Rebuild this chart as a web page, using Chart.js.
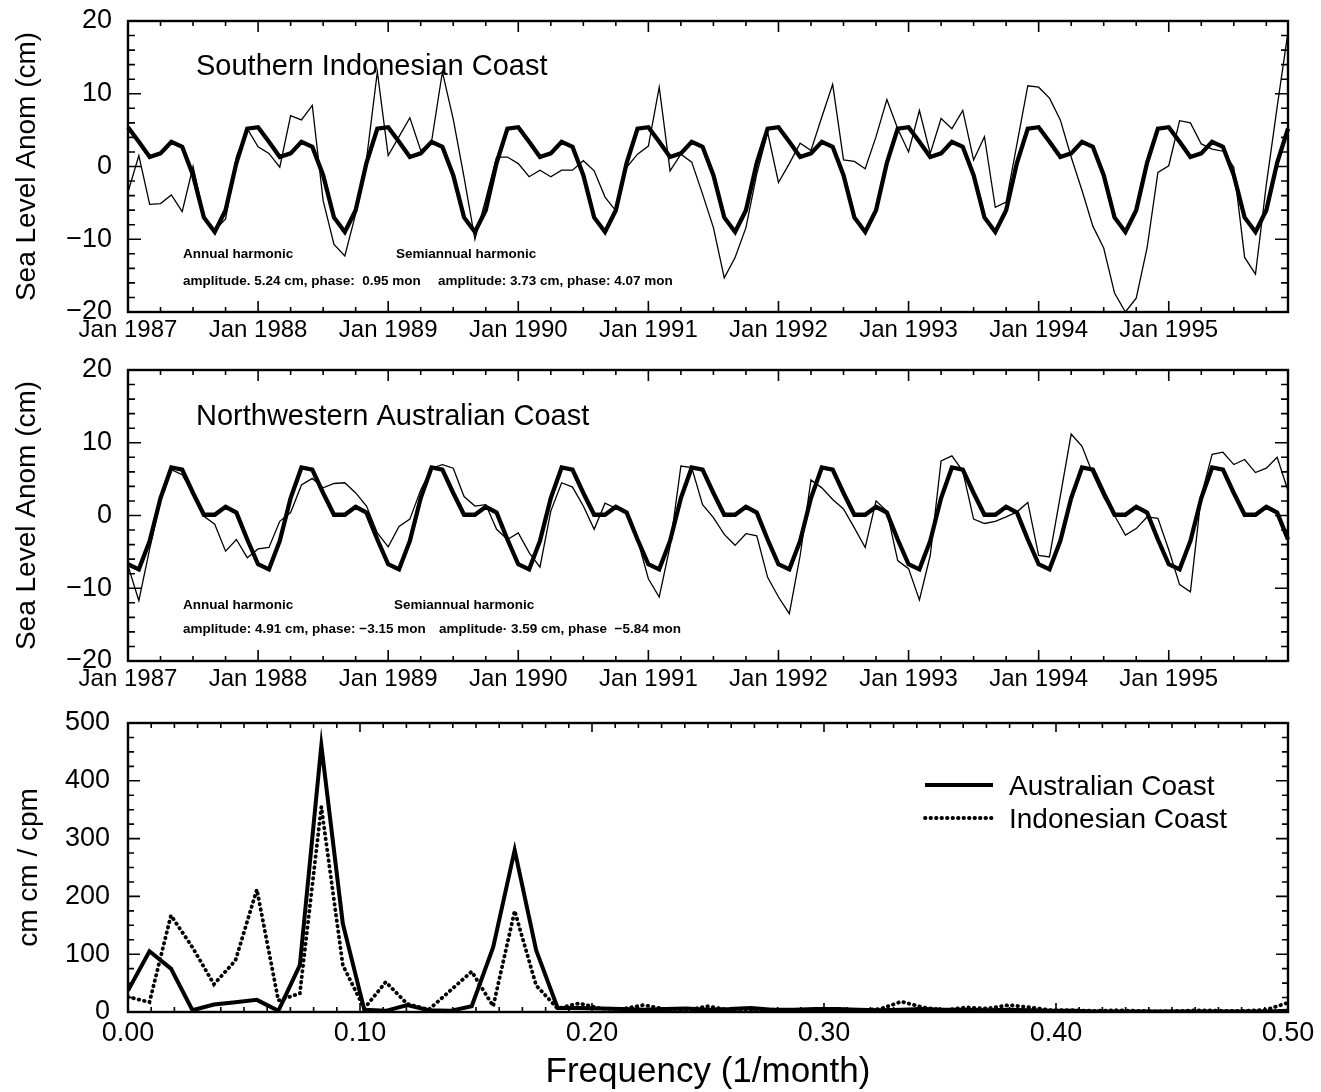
<!DOCTYPE html>
<html>
<head>
<meta charset="utf-8">
<title>Sea level anomalies and spectra, 1987-1995</title>
<script src="https://cdn.jsdelivr.net/npm/chart.js@4.4.1/dist/chart.umd.min.js"></script>
<style>
  html, body { margin: 0; padding: 0; background: #fff; }
  #page { position: relative; width: 1321px; height: 1092px; overflow: hidden; }
  canvas { position: absolute; left: 0; }
</style>
</head>
<body>
<div id="page">
  <canvas id="indonesia" width="1321" height="350" style="top:0"></canvas>
  <canvas id="australia" width="1321" height="350" style="top:349px"></canvas>
  <canvas id="spectrum" width="1321" height="392" style="top:700px"></canvas>
</div>
<script>
// ---- data -------------------------------------------------------------

const START_YEAR = 1987;
const MONTH_NAMES = ['Jan', 'Feb', 'Mar', 'Apr', 'May', 'Jun', 'Jul', 'Aug', 'Sep', 'Oct', 'Nov', 'Dec'];
const monthLabels = [];
for (let i = 0; i < 108; i++) {
    monthLabels.push(MONTH_NAMES[i % 12] + ' ' + (START_YEAR + Math.floor(i / 12)));
}

// monthly sea level anomaly (cm), southern Indonesian coast
const indonesiaObserved = [
    -3.5, 1.5, -5.2, -5.1, -3.9, -6.2, 0.0, -6.8, -8.8, -7.2, 1.3, 5.2,
    2.7, 1.8, -0.1, 7.0, 6.4, 8.4, -4.7, -10.7, -12.3, -6.5, 1.0, 13.0,
    1.5, 4.1, 6.7, 2.2, 3.4, 13.0, 6.5, -1.5, -10.0, -4.5, 1.3, 1.3,
    0.4, -1.4, -0.5, -1.4, -0.5, -0.5, 0.8, -0.6, -4.2, -6.1, -0.1, 1.7,
    2.8, 10.9, -0.6, 1.7, 0.6, -3.8, -8.4, -15.3, -12.5, -8.4, -1.0, 4.7,
    -2.2, 0.4, 3.2, 2.2, 6.8, 11.3, 0.9, 0.7, -0.3, 4.1, 9.2, 5.2,
    2.0, 7.7, 1.8, 6.6, 5.2, 7.7, 0.9, 4.1, -5.6, -4.9, 3.1, 11.1,
    10.9, 9.4, 6.4, 1.3, -3.3, -8.2, -11.2, -17.4, -20.0, -18.1, -11.2, -0.8,
    0.1, 6.3, 6.0, 3.1, 2.4, 2.1, -0.1, -12.5, -14.8, -2.5, 8.2, 18.5
];
// annual + semiannual harmonic fit
const indonesiaFit = [
    5.4, 3.4, 1.3, 1.8, 3.4, 2.7, -1.2, -7.0, -9.0, -6.0, 0.5, 5.2,
    5.4, 3.4, 1.3, 1.8, 3.4, 2.7, -1.2, -7.0, -9.0, -6.0, 0.5, 5.2,
    5.4, 3.4, 1.3, 1.8, 3.4, 2.7, -1.2, -7.0, -9.0, -6.0, 0.5, 5.2,
    5.4, 3.4, 1.3, 1.8, 3.4, 2.7, -1.2, -7.0, -9.0, -6.0, 0.5, 5.2,
    5.4, 3.4, 1.3, 1.8, 3.4, 2.7, -1.2, -7.0, -9.0, -6.0, 0.5, 5.2,
    5.4, 3.4, 1.3, 1.8, 3.4, 2.7, -1.2, -7.0, -9.0, -6.0, 0.5, 5.2,
    5.4, 3.4, 1.3, 1.8, 3.4, 2.7, -1.2, -7.0, -9.0, -6.0, 0.5, 5.2,
    5.4, 3.4, 1.3, 1.8, 3.4, 2.7, -1.2, -7.0, -9.0, -6.0, 0.5, 5.2,
    5.4, 3.4, 1.3, 1.8, 3.4, 2.7, -1.2, -7.0, -9.0, -6.0, 0.5, 5.2
];

// monthly sea level anomaly (cm), northwestern Australian coast
const australiaObserved = [
    -6.9, -11.7, -4.6, 2.0, 6.3, 5.6, 2.9, -0.1, -1.2, -4.9, -3.3, -5.8,
    -4.6, -4.4, -0.8, 0.4, 4.2, 5.1, 3.8, 4.4, 4.5, 3.1, 1.3, -2.4,
    -4.3, -1.5, -0.5, 3.5, 6.5, 7.0, 6.5, 2.6, 1.3, 1.5, -1.9, -3.3,
    -2.4, -5.1, -7.1, 0.6, 4.5, 3.9, 1.3, -1.9, 1.7, 1.0, 0.4, -3.3,
    -8.7, -11.2, -4.2, 6.8, 6.6, 1.5, -0.3, -2.6, -4.1, -2.5, -2.8, -8.5,
    -11.2, -13.5, -5.5, 4.9, 3.8, 2.2, 0.9, -1.7, -4.4, 2.0, 0.6, -6.2,
    -7.3, -11.6, -5.5, 7.5, 8.2, 6.1, -0.5, -1.1, -0.8, -0.2, 0.5, 1.8,
    -5.5, -5.7, 2.7, 11.2, 9.5, 5.7, 2.5, 0.0, -2.7, -1.8, -0.2, -0.4,
    -4.7, -9.5, -10.5, 2.7, 8.4, 8.7, 7.0, 7.7, 5.9, 6.5, 8.0, 3.4
];
const australiaFit = [
    -6.7, -7.4, -3.5, 2.4, 6.6, 6.3, 3.1, 0.1, 0.1, 1.2, 0.4, -3.3,
    -6.7, -7.4, -3.5, 2.4, 6.6, 6.3, 3.1, 0.1, 0.1, 1.2, 0.4, -3.3,
    -6.7, -7.4, -3.5, 2.4, 6.6, 6.3, 3.1, 0.1, 0.1, 1.2, 0.4, -3.3,
    -6.7, -7.4, -3.5, 2.4, 6.6, 6.3, 3.1, 0.1, 0.1, 1.2, 0.4, -3.3,
    -6.7, -7.4, -3.5, 2.4, 6.6, 6.3, 3.1, 0.1, 0.1, 1.2, 0.4, -3.3,
    -6.7, -7.4, -3.5, 2.4, 6.6, 6.3, 3.1, 0.1, 0.1, 1.2, 0.4, -3.3,
    -6.7, -7.4, -3.5, 2.4, 6.6, 6.3, 3.1, 0.1, 0.1, 1.2, 0.4, -3.3,
    -6.7, -7.4, -3.5, 2.4, 6.6, 6.3, 3.1, 0.1, 0.1, 1.2, 0.4, -3.3,
    -6.7, -7.4, -3.5, 2.4, 6.6, 6.3, 3.1, 0.1, 0.1, 1.2, 0.4, -3.3
];

// power spectra, frequency grid of 1/108 cycles per month
const frequency = [];
for (let k = 0; k <= 54; k++) frequency.push(k / 108);

const australiaSpectrum = [
    37, 105, 75, 3, 13, 17, 21, 2, 81, 461, 153, 4, 2, 12, 3, 2, 10, 112, 280, 107, 7, 7,
    6, 5, 4, 5, 6, 4, 5, 7, 4, 4, 5, 5, 4, 3, 4, 5, 4, 4, 3, 4,
    3, 2, 2, 1, 1, 1, 1, 1, 1, 1, 1, 1, 2
];
const indonesiaSpectrum = [
    26, 17, 167, 112, 48, 89, 212, 20, 32, 355, 81, 6, 52, 14, 4, 37, 70, 10, 175, 46, 6, 15,
    6, 5, 12, 5, 3, 10, 3, 2, 4, 2, 4, 5, 3, 5, 18, 8, 3, 8, 6, 12,
    8, 3, 3, 2, 3, 2, 1, 2, 3, 2, 2, 4, 16
];

const seaLevelTicks = [-20, -10, 0, 10, 20];
const spectrumTicks = [0, 100, 200, 300, 400, 500];
const frequencyTicks = [0, 0.1, 0.2, 0.3, 0.4, 0.5];

// ---- drawing ----------------------------------------------------------

const FONT = '"Liberation Sans", Arial, Helvetica, sans-serif';
Chart.defaults.font.family = FONT;
Chart.defaults.color = '#000';

const signed = v => (v < 0 ? '\u2212' + Math.abs(v) : String(v));

// fixed axis boxes so the plot areas line up between panels
const fixWidth = w => s => { s.width = w; s.paddingTop = 0; s.paddingBottom = 0; };
const fixHeight = h => s => { s.height = h; s.paddingLeft = 0; s.paddingRight = 0; };

// frame round the plot area with inward tick marks on all four sides
function frameTicks(xMinor, xMajor, yMinor, yMajor, len) {
    return {
        id: 'frameTicks',
        afterDatasetsDraw(chart) {
            const { ctx, chartArea: a, scales: { x, y } } = chart;
            ctx.save();
            ctx.strokeStyle = '#000';
            ctx.lineWidth = 1.6;
            ctx.beginPath();
            const xMark = (v, l) => {
                const p = x.getPixelForValue(v);
                ctx.moveTo(p, a.bottom); ctx.lineTo(p, a.bottom - l);
                ctx.moveTo(p, a.top); ctx.lineTo(p, a.top + l);
            };
            const yMark = (v, l) => {
                const p = y.getPixelForValue(v);
                ctx.moveTo(a.left, p); ctx.lineTo(a.left + l, p);
                ctx.moveTo(a.right, p); ctx.lineTo(a.right - l, p);
            };
            xMinor.forEach(v => xMark(v, len.xMinor));
            xMajor.forEach(v => xMark(v, len.xMajor));
            yMinor.forEach(v => yMark(v, len.yMinor));
            yMajor.forEach(v => yMark(v, len.yMajor));
            ctx.stroke();
            ctx.lineWidth = 2.4;
            ctx.strokeRect(a.left, a.top, a.right - a.left, a.bottom - a.top);
            ctx.restore();
        }
    };
}

// free text inside a panel
function panelText(items) {
    return {
        id: 'panelText',
        afterDraw(chart) {
            const ctx = chart.ctx;
            ctx.save();
            ctx.fillStyle = '#000';
            ctx.textBaseline = 'alphabetic';
            items.forEach(t => {
                ctx.font = t.font;
                ctx.fillText(t.text, t.x, t.y);
            });
            ctx.restore();
        }
    };
}

const quarterTicks = [], januaryTicks = [];
for (let i = 0; i < 108; i += 3) (i % 12 === 0 ? januaryTicks : quarterTicks).push(i);
const cmMinor = [];
for (let v = -18; v < 20; v += 2) if (v % 10 !== 0) cmMinor.push(v);

const TITLE_FONT = '29px ' + FONT;
const NOTE_FONT = 'bold 13.5px ' + FONT;

function seaLevelChart(id, observed, fit, notes) {
    return new Chart(document.getElementById(id), {
        type: 'line',
        data: {
            labels: monthLabels,
            datasets: [
                { label: 'Harmonic fit', data: fit, borderColor: '#000', borderWidth: 4.3,
                  pointRadius: 0, tension: 0 },
                { label: 'Observed', data: observed, borderColor: '#000', borderWidth: 1.3,
                  pointRadius: 0, tension: 0 }
            ]
        },
        options: {
            responsive: false,
            animation: false,
            devicePixelRatio: 1,
            layout: { padding: { top: 21, right: 33, bottom: 0, left: 0 } },
            plugins: { legend: { display: false }, tooltip: { enabled: false } },
            scales: {
                x: {
                    type: 'category',
                    offset: false,
                    grid: { display: false, drawTicks: false },
                    border: { display: false },
                    ticks: {
                        autoSkip: false, maxRotation: 0, padding: 4,
                        font: { size: 24 },
                        callback: (v, i) => (i % 12 === 0 ? monthLabels[i] : '')
                    },
                    afterFit: fixHeight(38)
                },
                y: {
                    min: -20, max: 20,
                    grid: { display: false, drawTicks: false },
                    border: { display: false },
                    afterBuildTicks: s => { s.ticks = seaLevelTicks.map(v => ({ value: v })); },
                    ticks: { padding: 16, font: { size: 27 }, callback: v => signed(v) },
                    title: {
                        display: true, text: 'Sea Level Anom (cm)',
                        font: { size: 28 }, padding: { top: 10, bottom: 0 }
                    },
                    afterFit: fixWidth(128)
                }
            }
        },
        plugins: [
            frameTicks(quarterTicks, januaryTicks, cmMinor, [-10, 0, 10],
                { xMinor: 5, xMajor: 11, yMinor: 7, yMajor: 13 }),
            panelText(notes)
        ]
    });
}

seaLevelChart('indonesia', indonesiaObserved, indonesiaFit, [
    { text: 'Southern Indonesian Coast', x: 196, y: 75, font: TITLE_FONT },
    { text: 'Annual harmonic', x: 183, y: 258, font: NOTE_FONT },
    { text: 'Semiannual harmonic', x: 396, y: 258, font: NOTE_FONT },
    { text: 'amplitude. 5.24 cm, phase:  0.95 mon', x: 183, y: 285, font: NOTE_FONT },
    { text: 'amplitude: 3.73 cm, phase: 4.07 mon', x: 438, y: 285, font: NOTE_FONT }
]);

seaLevelChart('australia', australiaObserved, australiaFit, [
    { text: 'Northwestern Australian Coast', x: 196, y: 76, font: TITLE_FONT },
    { text: 'Annual harmonic', x: 183, y: 260, font: NOTE_FONT },
    { text: 'Semiannual harmonic', x: 394, y: 260, font: NOTE_FONT },
    { text: 'amplitude: 4.91 cm, phase: \u22123.15 mon', x: 183, y: 284, font: NOTE_FONT },
    { text: 'amplitude\u00b7 3.59 cm, phase  \u22125.84 mon', x: 439, y: 284, font: NOTE_FONT }
]);

// key for the two spectra, drawn with each dataset's own line style
const spectrumKey = {
    id: 'spectrumKey',
    afterDraw(chart) {
        const ctx = chart.ctx;
        const rows = [{ line: 85, text: 95 }, { line: 118, text: 128 }];
        chart.data.datasets.forEach((ds, i) => {
            ctx.save();
            ctx.strokeStyle = ds.borderColor;
            ctx.lineWidth = ds.borderWidth;
            ctx.lineCap = ds.borderCapStyle || 'butt';
            ctx.setLineDash(ds.borderDash || []);
            ctx.beginPath();
            ctx.moveTo(925, rows[i].line);
            ctx.lineTo(993, rows[i].line);
            ctx.stroke();
            ctx.setLineDash([]);
            ctx.fillStyle = '#000';
            ctx.font = '28px ' + FONT;
            ctx.textBaseline = 'alphabetic';
            ctx.fillText(ds.label, 1009, rows[i].text);
            ctx.restore();
        });
    }
};

const freqMinor = [], freqMajor = [];
for (let k = 0; k <= 50; k++) (k % 10 === 0 ? freqMajor : freqMinor).push(k / 100);
const powerMinor = [];
for (let v = 25; v < 500; v += 25) if (v % 100 !== 0) powerMinor.push(v);

new Chart(document.getElementById('spectrum'), {
    type: 'line',
    data: {
        datasets: [
            {
                label: 'Australian Coast',
                data: frequency.map((f, k) => ({ x: f, y: australiaSpectrum[k] })),
                borderColor: '#000', borderWidth: 4, pointRadius: 0, tension: 0
            },
            {
                label: 'Indonesian Coast',
                data: frequency.map((f, k) => ({ x: f, y: indonesiaSpectrum[k] })),
                borderColor: '#000', borderWidth: 3.8, borderDash: [0.5, 5],
                borderCapStyle: 'round', pointRadius: 0, tension: 0
            }
        ]
    },
    options: {
        responsive: false,
        animation: false,
        devicePixelRatio: 1,
        layout: { padding: { top: 23, right: 33, bottom: 0, left: 0 } },
        plugins: { legend: { display: false }, tooltip: { enabled: false } },
        scales: {
            x: {
                type: 'linear', min: 0, max: 0.5,
                grid: { display: false, drawTicks: false },
                border: { display: false },
                afterBuildTicks: s => { s.ticks = frequencyTicks.map(v => ({ value: v })); },
                ticks: { padding: 5, maxRotation: 0, font: { size: 27 }, callback: v => v.toFixed(2) },
                title: {
                    display: true, text: 'Frequency (1/month)',
                    font: { size: 35, lineHeight: 1.1 }, padding: { top: 0, bottom: 0 }
                },
                afterFit: fixHeight(80)
            },
            y: {
                min: 0, max: 500,
                grid: { display: false, drawTicks: false },
                border: { display: false },
                afterBuildTicks: s => { s.ticks = spectrumTicks.map(v => ({ value: v })); },
                ticks: { padding: 18, font: { size: 27 } },
                title: {
                    display: true, text: 'cm cm / cpm',
                    font: { size: 28 }, padding: { top: 12, bottom: 0 }
                },
                afterFit: fixWidth(128)
            }
        }
    },
    plugins: [
        frameTicks(freqMinor, freqMajor, powerMinor, [100, 200, 300, 400],
            { xMinor: 5, xMajor: 9, yMinor: 6, yMajor: 12 }),
        spectrumKey
    ]
});
</script>
</body>
</html>
